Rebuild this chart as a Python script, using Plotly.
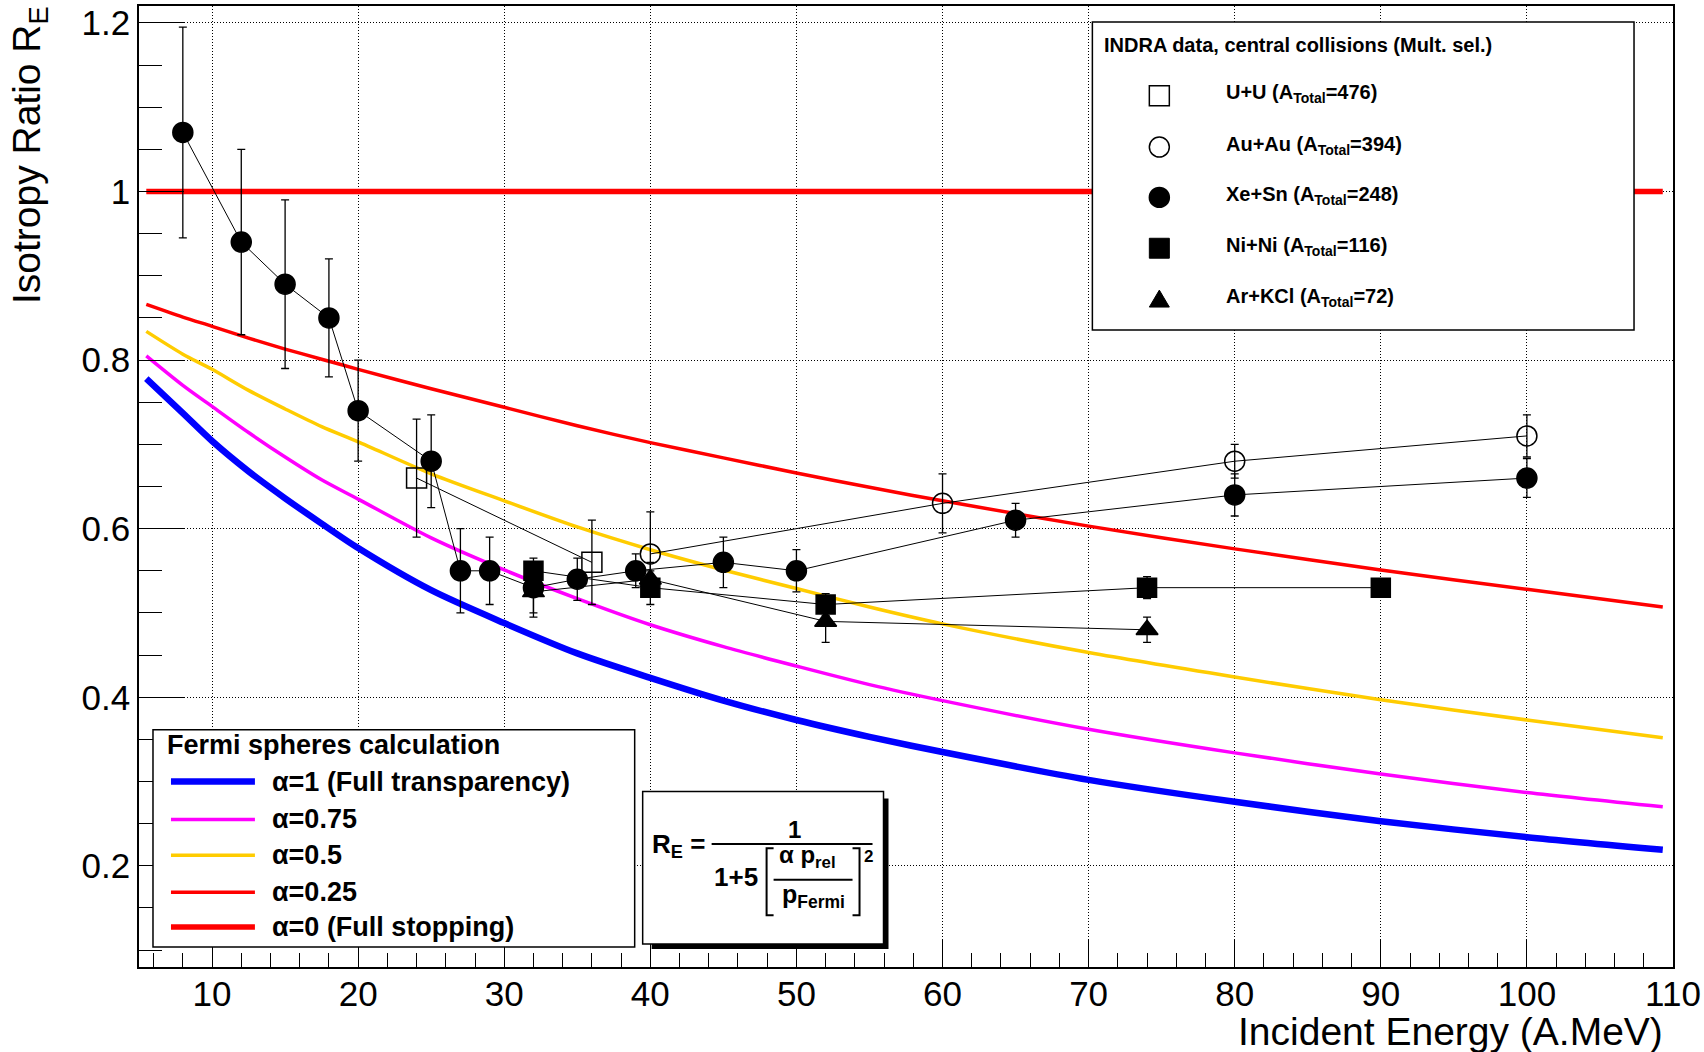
import plotly.graph_objects as go

FONT = "Liberation Sans, Arial, Helvetica, sans-serif"

# ---------------- Fermi-sphere calculation curves ----------------
curve_energy = [5.5, 8, 10, 12.5, 15, 17.5, 20, 25, 30, 35, 40, 45, 50, 55, 60, 70, 80, 90, 100, 109.3]
re_alpha_100 = [0.778, 0.737, 0.704, 0.668, 0.636, 0.606, 0.577, 0.527, 0.488, 0.452, 0.423, 0.396,
                0.373, 0.353, 0.335, 0.302, 0.276, 0.253, 0.234, 0.219]
re_alpha_075 = [0.805, 0.770, 0.745, 0.714, 0.685, 0.658, 0.635, 0.589, 0.551, 0.517, 0.486, 0.460,
                0.437, 0.415, 0.396, 0.362, 0.334, 0.309, 0.287, 0.270]
re_alpha_050 = [0.834, 0.807, 0.789, 0.764, 0.742, 0.721, 0.703, 0.665, 0.633, 0.602, 0.575, 0.551,
                0.529, 0.507, 0.487, 0.453, 0.424, 0.397, 0.373, 0.352]
re_alpha_025 = [0.866, 0.851, 0.840, 0.826, 0.813, 0.801, 0.789, 0.766, 0.744, 0.722, 0.702, 0.684,
                0.666, 0.649, 0.633, 0.603, 0.576, 0.551, 0.528, 0.507]
stop_energy = [5.5, 109.3]
re_alpha_000 = [1.0, 1.0]

curve_labels = ["\u03b1=1 (Full transparency)", "\u03b1=0.75", "\u03b1=0.5", "\u03b1=0.25",
                "\u03b1=0 (Full stopping)"]
curve_colors = ["#0000ff", "#ff00ff", "#ffcc00", "#ff0000", "#ff0000"]
curve_widths = [6.5, 3.5, 3.5, 3.5, 5.5]

# ---------------- INDRA data, central collisions ----------------
uu_energy = [24, 36]
uu_re = [0.66, 0.56]
uu_err = [0.07, 0.05]

auau_energy = [40, 60, 80, 100]
auau_re = [0.57, 0.63, 0.68, 0.71]
auau_err = [0.05, 0.035, 0.02, 0.025]

xesn_energy = [8, 12, 15, 18, 20, 25, 27, 29, 32, 35, 39, 45, 50, 65, 80, 100]
xesn_re = [1.07, 0.94, 0.89, 0.85, 0.74, 0.68, 0.55, 0.55, 0.53, 0.54, 0.55, 0.56, 0.55, 0.61, 0.64, 0.66]
xesn_err = [0.125, 0.11, 0.10, 0.07, 0.06, 0.055, 0.05, 0.04, 0.03, 0.025, 0.02, 0.03, 0.025, 0.02, 0.025, 0.023]

nini_energy = [32, 40, 52, 74, 90]
nini_re = [0.55, 0.53, 0.51, 0.53, 0.53]
nini_err = [0.015, 0.02, 0.013, 0.013, 0.008]

arkcl_energy = [32, 40, 52, 74]
arkcl_re = [0.525, 0.54, 0.49, 0.48]
arkcl_err = [0.03, 0.02, 0.025, 0.015]

system_labels = ["U+U (A<sub>Total</sub>=476)", "Au+Au (A<sub>Total</sub>=394)",
                 "Xe+Sn (A<sub>Total</sub>=248)", "Ni+Ni (A<sub>Total</sub>=116)",
                 "Ar+KCl (A<sub>Total</sub>=72)"]

# ---------------- canvas geometry ----------------
FIG_W, FIG_H = 1704, 1052
M_L, M_R, M_T, M_B = 139, 30, 3, 85
PW = FIG_W - M_L - M_R
PH = FIG_H - M_T - M_B


def px(x):
    return (x - M_L) / PW


def py(y):
    return (FIG_H - M_B - y) / PH


fig = go.Figure()

# model curves (alpha = 0 drawn last, on top of the others)
curve_x = [curve_energy] * 4 + [stop_energy]
curve_y = [re_alpha_100, re_alpha_075, re_alpha_050, re_alpha_025, re_alpha_000]
for xs, ys, col, w in zip(curve_x, curve_y, curve_colors, curve_widths):
    fig.add_trace(go.Scatter(x=xs, y=ys, mode="lines",
                             line=dict(color=col, width=w, shape="spline", smoothing=0.8),
                             hoverinfo="skip"))


def data_trace(xs, ys, errs, symbol, size):
    return go.Scatter(
        x=xs, y=ys, mode="lines+markers",
        line=dict(color="black", width=1),
        marker=dict(symbol=symbol, size=size, color="black", line=dict(color="black", width=1.5)),
        error_y=dict(type="data", array=errs, visible=True, color="black", thickness=1.3, width=4),
    )


fig.add_trace(data_trace(arkcl_energy, arkcl_re, arkcl_err, "triangle-up", 19))
fig.add_trace(data_trace(xesn_energy, xesn_re, xesn_err, "circle", 20))
fig.add_trace(data_trace(nini_energy, nini_re, nini_err, "square", 19))
fig.add_trace(data_trace(auau_energy, auau_re, auau_err, "circle-open", 20))
fig.add_trace(data_trace(uu_energy, uu_re, uu_err, "square-open", 20))

shapes = []
annotations = []


def text(x, y, s, size, xanchor="left", yanchor="middle", bold=True, angle=0):
    annotations.append(dict(
        x=px(x), y=py(y), xref="paper", yref="paper", showarrow=False,
        text=f"<b>{s}</b>" if bold else s, xanchor=xanchor, yanchor=yanchor, textangle=angle,
        font=dict(family=FONT, size=size, color="black"), borderpad=0,
    ))


def rect(x0, y0, x1, y1, fill="white", line_w=1.5, line_col="black"):
    shapes.append(dict(type="rect", xref="paper", yref="paper", layer="above",
                       x0=px(x0), x1=px(x1), y0=py(y1), y1=py(y0),
                       fillcolor=fill, line=dict(color=line_col, width=line_w)))


def hline(x0, x1, y, col, w):
    shapes.append(dict(type="line", xref="paper", yref="paper", layer="above",
                       x0=px(x0), x1=px(x1), y0=py(y), y1=py(y), line=dict(color=col, width=w)))


def path(points, col="black", w=2, fill=None):
    d = "M " + " L ".join(f"{px(a)},{py(b)}" for a, b in points)
    if fill:
        d += " Z"
    shapes.append(dict(type="path", xref="paper", yref="paper", layer="above", path=d,
                       fillcolor=fill if fill else "rgba(0,0,0,0)",
                       line=dict(color=col, width=w)))


def circle(cx, cy, r, fill):
    shapes.append(dict(type="circle", xref="paper", yref="paper", layer="above",
                       x0=px(cx - r), x1=px(cx + r), y0=py(cy + r), y1=py(cy - r),
                       fillcolor=fill, line=dict(color="black", width=1.5)))


# ---- legend: Fermi spheres calculation ----
rect(153, 729, 635, 947)
text(166, 744, "Fermi spheres calculation", 27)
leg_rows = [781, 819, 855, 892, 927]
for yy, lab, col, w in zip(leg_rows, curve_labels, curve_colors, curve_widths):
    hline(171, 255, yy, col, w)
    text(271, yy, lab, 27)

# ---- legend: INDRA data ----
rect(1093, 19, 1635, 328)
text(1104, 42, "INDRA data, central collisions (Mult. sel.)", 20)
mx = 1160
rows = [93, 144.5, 195, 246, 297]
rect(mx - 10, rows[0] - 10, mx + 10, rows[0] + 10, fill="rgba(0,0,0,0)")
circle(mx, rows[1], 10, "rgba(0,0,0,0)")
circle(mx, rows[2], 10, "black")
rect(mx - 10, rows[3] - 10, mx + 10, rows[3] + 10, fill="black", line_w=1)
path([(mx - 10, rows[4] + 8), (mx + 10, rows[4] + 8), (mx, rows[4] - 9)], w=1, fill="black")
for yy, lab in zip(rows, system_labels):
    text(1226, yy - 2, lab, 20)

# ---- formula box with drop shadow ----
rect(652, 798, 889, 949, fill="black", line_w=0)
rect(643, 791, 884, 944)
text(651, 845, "R<sub>E</sub> =", 26)
text(795, 829, "1", 24, xanchor="center")
hline(712, 873, 843.5, "black", 2)
text(713, 877, "1+5", 26)
path([(774, 848), (767, 848), (767, 915), (774, 915)], w=2)
path([(853, 848), (860, 848), (860, 915), (853, 915)], w=2)
text(778, 856, "\u03b1 p<sub>rel</sub>", 24)
hline(774, 853, 879.5, "black", 2)
text(781, 896, "p<sub>Fermi</sub>", 25)
text(863, 856, "2", 17)

# ---- axis titles ----
text(1665, 1032, "Incident Energy (A.MeV)", 39, xanchor="right", bold=False)
text(29, 2, "Isotropy Ratio R<sub>E</sub>", 39, xanchor="center", yanchor="top", bold=False, angle=-90)

fig.update_layout(
    width=FIG_W, height=FIG_H,
    margin=dict(l=M_L, r=M_R, t=M_T, b=M_B, pad=0),
    paper_bgcolor="white", plot_bgcolor="white",
    showlegend=False,
    shapes=shapes, annotations=annotations,
    font=dict(family=FONT, color="black"),
)

axis_common = dict(
    showline=True, linecolor="black", linewidth=1.5, mirror=True,
    ticks="inside", tickcolor="black", tickwidth=1,
    showgrid=True, gridcolor="black", gridwidth=1, griddash="1px,2px",
    zeroline=False, tickfont=dict(family=FONT, size=35, color="black"),
)

fig.update_xaxes(range=[5, 110], tick0=0, dtick=10, ticklen=28, ticklabelstandoff=-5,
                 minor=dict(ticks="inside", ticklen=14, dtick=2, tick0=0, tickcolor="black",
                            tickwidth=1, showgrid=False),
                 **axis_common)
fig.update_yaxes(range=[0.08, 1.22], tick0=0, dtick=0.2, ticklen=45, ticklabelstandoff=0,
                 minor=dict(ticks="inside", ticklen=23, dtick=0.05, tick0=0, tickcolor="black",
                            tickwidth=1, showgrid=False),
                 **axis_common)

fig.write_html("out.html")
